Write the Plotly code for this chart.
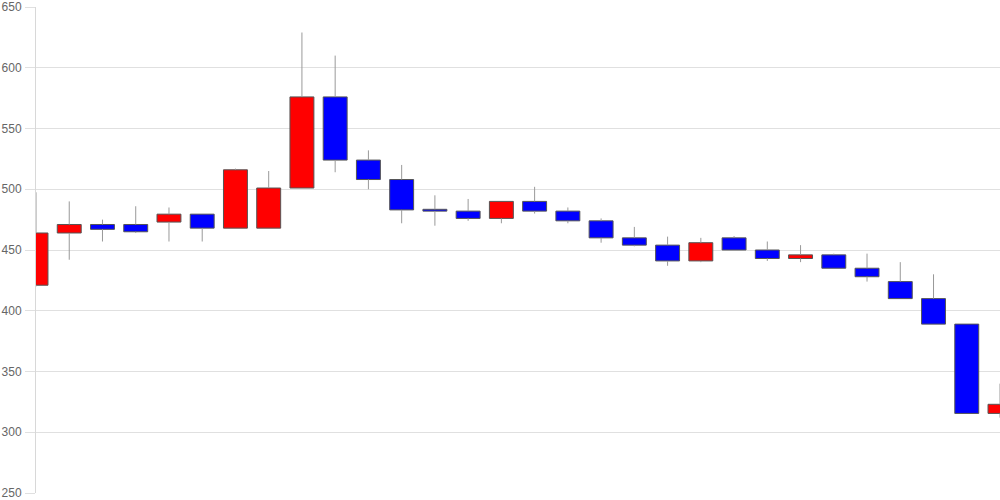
import plotly.graph_objects as go

# daily candles, left to right
idx = list(range(30))
opens = [421, 464, 471, 471, 473, 479.5, 468, 468, 501, 576,
         524, 508, 483.5, 482, 476, 490, 482, 474, 460, 454,
         441, 460, 450, 443, 446, 435, 424, 410, 389, 315.5]
highs = [497.5, 490, 475, 486, 485, 479.5, 517, 515, 629, 610,
         532, 520, 495, 492, 490, 502, 485, 476, 469, 461,
         460, 461.5, 457, 454, 447, 447, 440, 430, 389, 340]
lows = [420, 442, 457, 464, 457, 457, 468, 468, 501, 514,
        500, 472, 470, 474, 472, 480, 472, 456, 453, 437,
        440, 450, 441, 440, 435, 424, 410, 389, 315.5, 312]
closes = [464, 471, 467, 465, 479.5, 468, 516, 501, 576, 524,
          508, 483, 482, 476, 490, 482, 474, 460, 454, 441,
          456, 450, 443, 446, 435, 428, 410, 389, 315.5, 323]

bodies_base = [min(o, c) for o, c in zip(opens, closes)]
bodies_top = [max(o, c) for o, c in zip(opens, closes)]
bodies_len = [t - b for t, b in zip(bodies_top, bodies_base)]
bodies_col = ["#ff0000" if c >= o else "#0000ff" for o, c in zip(opens, closes)]

# wicks: upper and lower segments only, so nothing shows through the bodies
wick_x, wick_y = [], []
for i, lo, hi, b, t in zip(idx, lows, highs, bodies_base, bodies_top):
    wick_x += [i, i, None, i, i, None]
    wick_y += [t, hi, None, lo, b, None]

fig = go.Figure()
fig.add_trace(go.Scatter(
    x=wick_x, y=wick_y, mode="lines",
    line=dict(color="#999999", width=1),
    hoverinfo="skip",
))
fig.add_trace(go.Bar(
    x=idx, y=bodies_len, base=bodies_base, width=0.72,
    marker=dict(color=bodies_col, line=dict(color="#555555", width=1)),
    hoverinfo="skip",
))

fig.update_layout(
    width=1000,
    height=500,
    margin=dict(l=36, r=0, t=6, b=6),
    paper_bgcolor="white",
    plot_bgcolor="white",
    showlegend=False,
    font=dict(family="Liberation Sans, Arial, sans-serif", size=12, color="#666666"),
    xaxis=dict(
        range=[0, 29],
        showticklabels=False,
        showgrid=False,
        zeroline=False,
        showline=False,
    ),
    yaxis=dict(
        range=[250, 650],
        dtick=50,
        gridcolor="#e0e0e0",
        zeroline=False,
        showline=True,
        linecolor="#d8d8d8",
        ticks="outside",
        ticklen=10,
        tickcolor="#e0e0e0",
        ticklabelstandoff=1,
        ticklabeloverflow="allow",
    ),
)

# page body has an 8px default margin; drop it so the 1000x500 figure fills the window
fig.write_html(
    "out.html",
    config={"displayModeBar": False},
    post_script="document.body.style.margin='0';",
)
